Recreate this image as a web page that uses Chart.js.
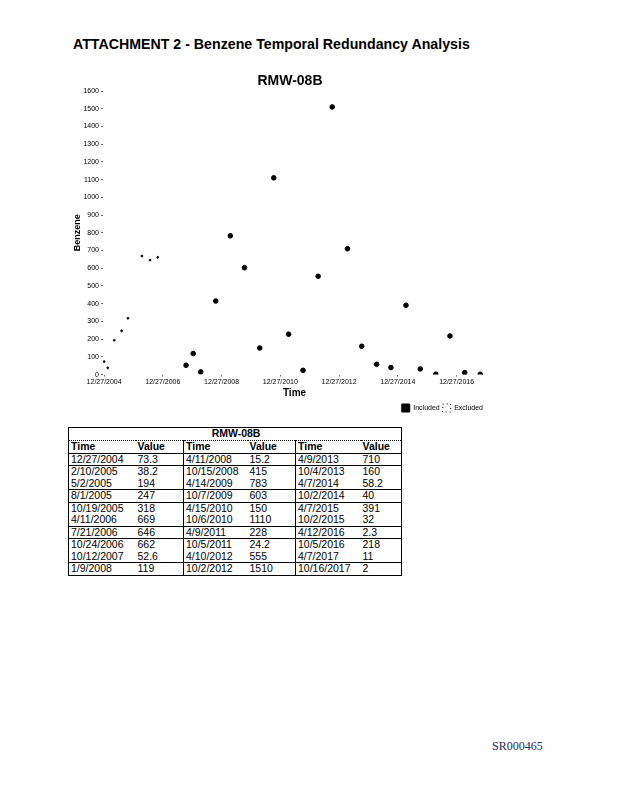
<!DOCTYPE html>
<html>
<head>
<meta charset="utf-8">
<script src="https://cdn.jsdelivr.net/npm/chart.js@4"></script>
<style>
    body { margin: 0; background: #fff; font-family: "Liberation Sans", Arial, sans-serif; }
    #page { position: relative; width: 618px; height: 800px; }
    #header { position: absolute; left: 73px; top: 36px; font-weight: bold; font-size: 14.2px; white-space: nowrap; }
    #chartTitle { position: absolute; left: 240px; width: 100px; top: 72px; text-align: center; font-weight: bold; font-size: 14px; }
    #chartBox { position: absolute; left: 60px; top: 65px; width: 430px; height: 360px; }
    #footer { position: absolute; left: 492px; top: 739px; font-family: "Liberation Serif", "Times New Roman", serif; font-size: 12px; color: #1f2a5a; }
    #dataTable { position: absolute; left: 68px; top: 427px; width: 333px; border-collapse: collapse; border: 1px solid #000; font-size: 10.5px; table-layout: fixed; }
    #dataTable td { padding: 0 0 0 2px; height: 11.5px; line-height: 11.5px; white-space: nowrap; overflow: hidden; }
    #dataTable .cap td { text-align: center; font-weight: bold; border-bottom: 1px dotted #000; height: 11px; }
    #dataTable .hd td { font-weight: bold; border-bottom: 1px solid #000; height: 12px; }
    #dataTable tr.sep td { border-bottom: 1px solid #000; }
    #dataTable td.v { border-right: 1px solid #000; }
</style>
</head>
<body>
<div id="page">
    <div id="header">ATTACHMENT 2 - Benzene Temporal Redundancy Analysis</div>
    <div id="chartBox"><canvas id="benzeneChart" width="430" height="360"></canvas></div>
    <div id="chartTitle">RMW-08B</div>
    <table id="dataTable"></table>
    <div id="footer">SR000465</div>
</div>
<script>
// sample dates and benzene results, as listed in the table
const excludedDates = ["12/27/2004", "2/10/2005", "5/2/2005", "8/1/2005", "10/19/2005", "4/11/2006", "7/21/2006", "10/24/2006"];
const excludedValues = [73.3, 38.2, 194, 247, 318, 669, 646, 662];
const includedDates = ["10/12/2007", "1/9/2008", "4/11/2008", "10/15/2008", "4/14/2009", "10/7/2009", "4/15/2010", "10/6/2010",
    "4/9/2011", "10/5/2011", "4/10/2012", "10/2/2012", "4/9/2013", "10/4/2013", "4/7/2014", "10/2/2014",
    "4/7/2015", "10/2/2015", "4/12/2016", "10/5/2016", "4/7/2017", "10/16/2017"];
const includedValues = [52.6, 119, 15.2, 415, 783, 603, 150, 1110, 228, 24.2, 555, 1510, 710, 160, 58.2, 40, 391, 32, 2.3, 218, 11, 2];
const tickDates = ["12/27/2004", "12/27/2006", "12/27/2008", "12/27/2010", "12/27/2012", "12/27/2014", "12/27/2016"];
const xRange = ["12/13/2004", "12/27/2017"];

function dayNum(s) {
    const p = s.split("/");
    return Date.UTC(+p[2], +p[0] - 1, +p[1]) / 86400000;
}

function toPoints(dates, values) {
    return dates.map(function (d, i) { return { x: dayNum(d), y: values[i] }; });
}

// table: same rows as the report, three column pairs of ten rows
const allDates = excludedDates.concat(includedDates);
const allValues = excludedValues.concat(includedValues);
const table = document.getElementById("dataTable");
let html = '<colgroup><col style="width:67px"><col style="width:48px"><col style="width:64px"><col style="width:48px"><col style="width:65px"><col style="width:41px"></colgroup>';
html += '<tr class="cap"><td colspan="6">RMW-08B</td></tr>';
html += '<tr class="hd"><td>Time</td><td class="v">Value</td><td>Time</td><td class="v">Value</td><td>Time</td><td>Value</td></tr>';
const sepRows = [0, 2, 3, 5, 6, 8, 9];
for (let r = 0; r < 10; r++) {
    html += '<tr' + (sepRows.includes(r) ? ' class="sep"' : '') + '>';
    for (let c = 0; c < 3; c++) {
        const k = c * 10 + r;
        html += '<td>' + allDates[k] + '</td><td' + (c < 2 ? ' class="v"' : '') + '>' + allValues[k] + '</td>';
    }
    html += '</tr>';
}
table.innerHTML = html;

const ctx = document.getElementById("benzeneChart");
const chart = new Chart(ctx, {
    type: "scatter",
    data: {
        datasets: [{
            label: "Included",
            data: toPoints(includedDates, includedValues),
            backgroundColor: "#000",
            borderColor: "#000",
            borderWidth: 1,
            pointRadius: 2.3,
            pointHoverRadius: 2.3
        }, {
            label: "Excluded",
            data: toPoints(excludedDates, excludedValues),
            backgroundColor: "#000",
            borderColor: "#000",
            pointRadius: 0.9,
            pointHoverRadius: 0.9
        }]
    },
    options: {
        responsive: false,
        animation: false,
        layout: { padding: { left: 12, right: 4, top: 26, bottom: 3 } },
        plugins: {
            title: { display: false },
            legend: {
                position: "bottom",
                align: "end",
                labels: {
                    color: "#000",
                    boxWidth: 8,
                    boxHeight: 8,
                    padding: 3,
                    font: { family: "Liberation Sans", size: 7 },
                    generateLabels: function () {
                        return [
                            { text: "Included", fillStyle: "#000", strokeStyle: "#000", lineWidth: 1, datasetIndex: 0 },
                            { text: "Excluded", fillStyle: "rgba(0,0,0,0)", strokeStyle: "#000", lineWidth: 1, lineDash: [1, 3], datasetIndex: 1 }
                        ];
                    }
                }
            },
            tooltip: { enabled: false }
        },
        scales: {
            x: {
                type: "linear",
                min: dayNum(xRange[0]),
                max: dayNum(xRange[1]),
                afterBuildTicks: function (axis) {
                    axis.ticks = tickDates.map(function (d) { return { value: dayNum(d) }; });
                },
                ticks: {
                    color: "#000",
                    font: { family: "Liberation Sans", size: 7 },
                    maxRotation: 0,
                    autoSkip: false,
                    padding: 1,
                    callback: function (value) {
                        const i = tickDates.findIndex(function (d) { return dayNum(d) === value; });
                        return i >= 0 ? tickDates[i] : "";
                    }
                },
                grid: { drawOnChartArea: false, tickLength: 2, color: "#000", lineWidth: 0.6 },
                border: { display: false },
                title: {
                    display: true,
                    text: "Time",
                    color: "#000",
                    font: { family: "Liberation Sans", size: 10, weight: "bold" },
                    padding: { top: 0, bottom: 2 }
                }
            },
            y: {
                min: 0,
                max: 1600,
                ticks: {
                    stepSize: 100,
                    color: "#000",
                    font: { family: "Liberation Sans", size: 7 },
                    padding: 2,
                    callback: function (value) { return String(value); }
                },
                grid: { drawOnChartArea: false, tickLength: 2, color: "#000", lineWidth: 0.6 },
                border: { display: false },
                title: {
                    display: true,
                    text: "Benzene",
                    color: "#000",
                    font: { family: "Liberation Sans", size: 9, weight: "bold" },
                    padding: 0
                },
                afterFit: function (axis) { axis.width = 31; }
            }
        }
    }
});
</script>
</body>
</html>
